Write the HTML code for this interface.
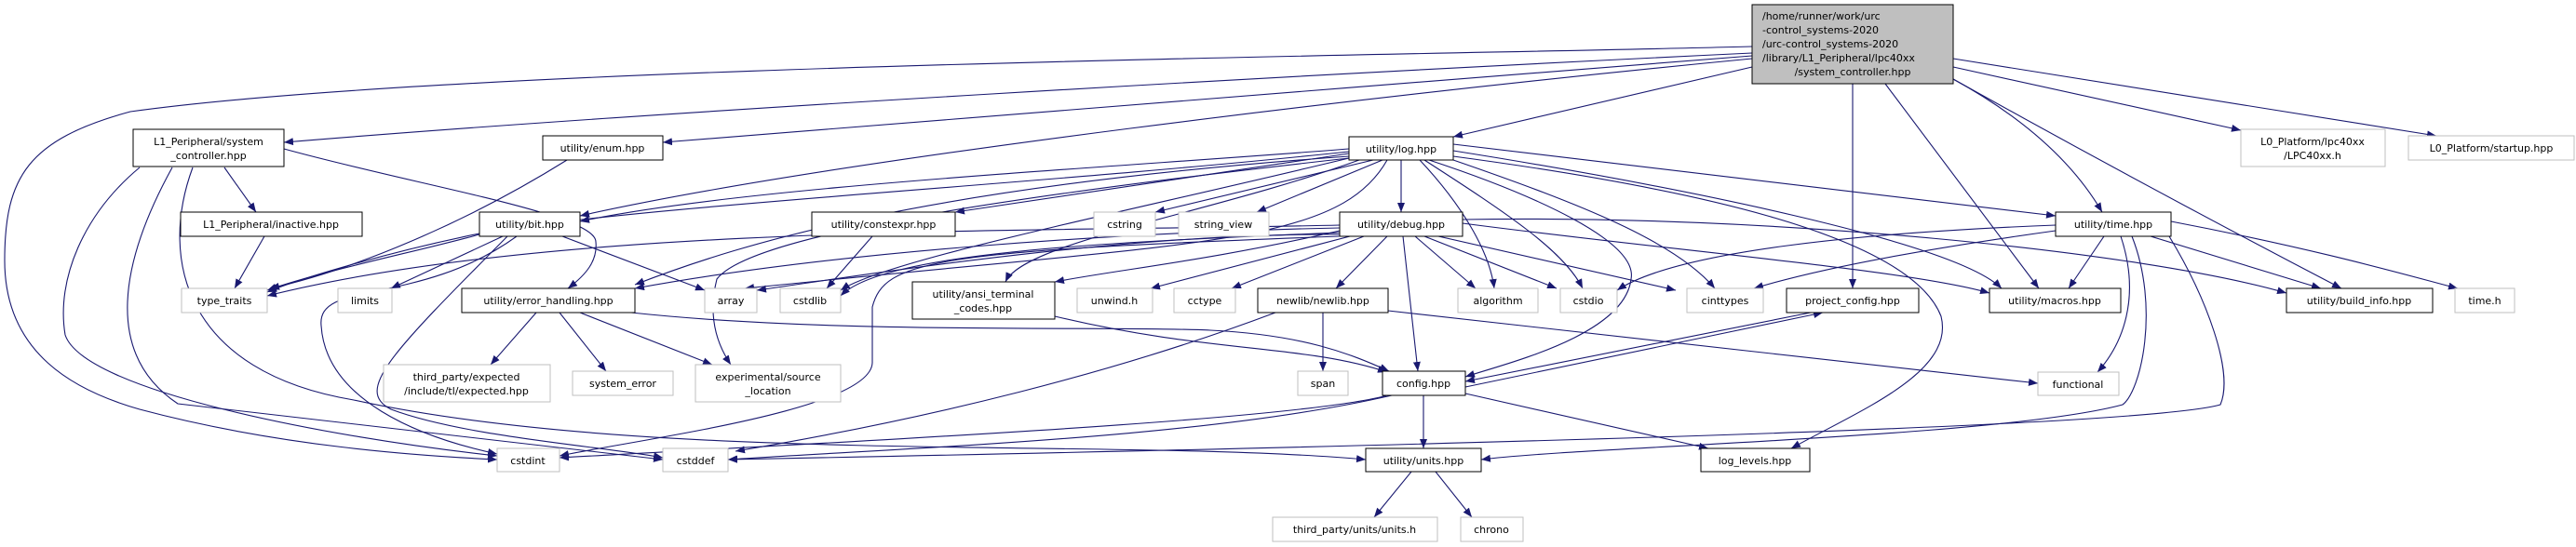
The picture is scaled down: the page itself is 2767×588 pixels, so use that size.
<!DOCTYPE html>
<html><head><meta charset="utf-8"><style>
html,body{margin:0;padding:0;background:#fff;}
svg{display:block;}
text{font-family:"DejaVu Sans","Liberation Sans",sans-serif;font-size:11px;fill:#000;}
.e{fill:none;stroke:#191970;stroke-width:1.1;marker-end:url(#a);}
.n{fill:#fff;stroke:#000;stroke-width:1;}
.g{fill:#fff;stroke:#bfbfbf;stroke-width:1;}
</style></head><body>
<svg width="2767" height="588" viewBox="0 0 2767 588" xmlns="http://www.w3.org/2000/svg">
<defs><marker id="a" viewBox="0 0 10 8" refX="10" refY="4" markerWidth="10" markerHeight="8" markerUnits="userSpaceOnUse" orient="auto"><path d="M0,0 L10,4 L0,8 z" fill="#191970"/></marker></defs>

<!-- edges from main -->
<path class="e" d="M1882,50 C1500,60 500,70 140,120 C30,150 5,190 5,280 C5,380 80,420 150,440 C300,480 450,490 534,494"/>
<path class="e" d="M1882,57 C1400,80 700,120 305,153"/>
<path class="e" d="M1882,60 C1500,90 1000,130 712,153"/>
<path class="e" d="M1882,63 C1500,100 900,170 623,232"/>
<path class="e" d="M1882,72 L1561,147"/>
<path class="e" d="M1990,90 L1990,310"/>
<path class="e" d="M2025,90 L2190,310"/>
<path class="e" d="M2098,85 C2180,130 2230,180 2258,228"/>
<path class="e" d="M2098,85 C2250,170 2400,250 2515,310"/>
<path class="e" d="M2098,72 L2407,140"/>
<path class="e" d="M2098,63 L2617,146"/>

<!-- system controller -->
<path class="e" d="M241,180 L275,228"/>
<path class="e" d="M150,180 C90,230 60,300 70,360 C90,420 350,470 534,490"/>
<path class="e" d="M185,180 C130,280 110,380 191,434 L712,494"/>
<path class="e" d="M207,180 C170,280 200,400 380,430 C700,500 1200,470 1467,494"/>
<path class="e" d="M305,160 C450,200 640,230 640,260 C642,280 630,295 610,310"/>

<path class="e" d="M284,254 L252,310"/>
<path class="e" d="M609,172 C500,240 380,290 290,310"/>
<path class="e" d="M515,252 C450,270 350,290 287,312"/>
<path class="e" d="M540,254 L420,310"/>
<path class="e" d="M604,254 L757,312"/>
<path class="e" d="M555,254 C450,330 340,300 345,350 C350,430 450,470 534,488"/>
<path class="e" d="M545,254 C420,380 380,420 420,440 C500,470 650,480 712,492"/>
<path class="e" d="M937,254 L888,310"/>

<!-- log -->
<path class="e" d="M1505,172 L1505,228"/>
<path class="e" d="M1475,172 L1241,228"/>
<path class="e" d="M1485,172 L1350,228"/>
<path class="e" d="M1449,165 L1026,228"/>
<path class="e" d="M1449,160 C1200,180 800,200 623,238"/>
<path class="e" d="M1449,163 C1100,200 700,220 520,250 C420,270 320,300 287,314"/>
<path class="e" d="M1449,168 C1000,200 800,260 682,306"/>
<path class="e" d="M1449,170 C1000,220 800,260 770,300 C760,340 770,370 785,392"/>
<path class="e" d="M1460,172 C1300,230 1100,260 1080,303"/>
<path class="e" d="M1490,172 C1440,260 1300,260 900,300 L800,310"/>
<path class="e" d="M1525,172 C1570,220 1600,270 1605,310"/>
<path class="e" d="M1530,172 C1620,230 1680,270 1700,310"/>
<path class="e" d="M1561,172 C1700,220 1800,260 1842,310"/>
<path class="e" d="M1561,162 C1800,200 2100,260 2150,310"/>
<path class="e" d="M1561,155 L2208,232"/>
<path class="e" d="M1535,172 C1650,210 1760,260 1752,300 C1745,360 1620,390 1574,405"/>
<path class="e" d="M1561,168 C1800,200 2050,250 2085,340 C2100,400 2000,440 1924,482"/>
<path class="e" d="M1449,170 C1200,230 950,280 903,312"/>

<!-- debug -->
<path class="e" d="M1507,254 L1523,399"/>
<path class="e" d="M1490,254 L1435,310"/>
<path class="e" d="M1465,254 L1323,310"/>
<path class="e" d="M1450,254 L1236,310"/>
<path class="e" d="M1520,254 L1585,310"/>
<path class="e" d="M1530,254 L1672,310"/>
<path class="e" d="M1545,254 L1800,312"/>
<path class="e" d="M1571,240 C1800,270 2050,290 2137,315"/>
<path class="e" d="M1571,236 C1900,230 2300,270 2456,315"/>
<path class="e" d="M1439,248 C1300,280 1200,290 1133,303"/>
<path class="e" d="M1439,250 C1200,260 950,270 903,318"/>
<path class="e" d="M1439,252 C1200,250 900,300 813,312"/>
<path class="e" d="M1439,245 C1200,250 900,270 682,310"/>
<path class="e" d="M1439,242 C1100,250 600,240 287,318"/>
<path class="e" d="M1439,254 C1000,270 950,280 937,330 L937,390 C935,440 700,470 601,490"/>

<!-- time -->
<path class="e" d="M2208,242 C2000,250 1800,270 1737,312"/>
<path class="e" d="M2208,248 C2050,270 1950,290 1884,310"/>
<path class="e" d="M2260,254 L2222,310"/>
<path class="e" d="M2310,254 L2493,310"/>
<path class="e" d="M2332,238 C2500,270 2600,300 2640,310"/>
<path class="e" d="M2278,254 C2300,320 2280,370 2253,400"/>
<path class="e" d="M2290,254 C2320,330 2300,420 2280,435 C2150,470 1700,480 1591,494"/>
<path class="e" d="M2330,254 C2370,320 2400,400 2385,435 C2300,460 1500,480 782,494"/>

<!-- error handling -->
<path class="e" d="M576,336 L527,392"/>
<path class="e" d="M601,336 L651,399"/>
<path class="e" d="M623,336 L765,392"/>
<path class="e" d="M678,336 C900,360 1200,350 1300,355 C1400,360 1450,380 1492,399"/>

<path class="e" d="M1133,340 C1300,380 1400,370 1490,400"/>
<path class="e" d="M1421,336 L1421,399"/>
<path class="e" d="M1370,336 C1200,400 1000,450 790,485"/>
<path class="e" d="M1491,334 L2189,412"/>
<path class="e" d="M1945,336 L1574,410"/>
<path class="e" d="M1574,416 L1958,336"/>
<path class="e" d="M1490,425 C1400,450 1000,470 601,492"/>
<path class="e" d="M1495,425 C1300,470 1000,480 782,494"/>
<path class="e" d="M1529,425 L1529,482"/>
<path class="e" d="M1574,423 L1835,482"/>
<path class="e" d="M1516,507 L1476,556"/>
<path class="e" d="M1542,507 L1581,556"/>

<!-- nodes -->
<rect x="1882" y="5" width="216" height="85" fill="#bfbfbf" stroke="#000"/>
<text x="1893" y="21">/home/runner/work/urc</text>
<text x="1893" y="36">-control_systems-2020</text>
<text x="1893" y="51">/urc-control_systems-2020</text>
<text x="1893" y="66">/library/L1_Peripheral/lpc40xx</text>
<text x="1990" y="81" text-anchor="middle">/system_controller.hpp</text>

<g text-anchor="middle">
<rect class="n" x="143" y="139" width="162" height="40"/><text x="224" y="156">L1_Peripheral/system</text><text x="224" y="171">_controller.hpp</text>
<rect class="n" x="583" y="146" width="129" height="26"/><text x="647" y="163">utility/enum.hpp</text>
<rect class="n" x="1449" y="147" width="112" height="25"/><text x="1505" y="164">utility/log.hpp</text>
<rect class="g" x="2407" y="139" width="155" height="40"/><text x="2484" y="156">L0_Platform/lpc40xx</text><text x="2484" y="171">/LPC40xx.h</text>
<rect class="g" x="2587" y="146" width="178" height="26"/><text x="2676" y="163">L0_Platform/startup.hpp</text>

<rect class="n" x="194" y="228" width="195" height="26"/><text x="291" y="245">L1_Peripheral/inactive.hpp</text>
<rect class="n" x="515" y="228" width="108" height="26"/><text x="569" y="245">utility/bit.hpp</text>
<rect class="n" x="872" y="228" width="154" height="26"/><text x="949" y="245">utility/constexpr.hpp</text>
<rect class="g" x="1175" y="228" width="66" height="26"/><text x="1208" y="245">cstring</text>
<rect class="g" x="1266" y="228" width="97" height="26"/><text x="1314" y="245">string_view</text>
<rect class="n" x="1439" y="228" width="132" height="26"/><text x="1505" y="245">utility/debug.hpp</text>
<rect class="n" x="2208" y="228" width="124" height="26"/><text x="2270" y="245">utility/time.hpp</text>

<rect class="g" x="195" y="310" width="92" height="26"/><text x="241" y="327">type_traits</text>
<rect class="g" x="363" y="310" width="58" height="26"/><text x="392" y="327">limits</text>
<rect class="n" x="496" y="310" width="186" height="26"/><text x="589" y="327">utility/error_handling.hpp</text>
<rect class="g" x="757" y="310" width="56" height="26"/><text x="785" y="327">array</text>
<rect class="g" x="838" y="310" width="65" height="26"/><text x="870" y="327">cstdlib</text>
<rect class="n" x="980" y="303" width="153" height="40"/><text x="1056" y="320">utility/ansi_terminal</text><text x="1056" y="335">_codes.hpp</text>
<rect class="g" x="1157" y="310" width="81" height="26"/><text x="1197" y="327">unwind.h</text>
<rect class="g" x="1261" y="310" width="66" height="26"/><text x="1294" y="327">cctype</text>
<rect class="n" x="1351" y="310" width="140" height="26"/><text x="1421" y="327">newlib/newlib.hpp</text>
<rect class="g" x="1566" y="310" width="86" height="26"/><text x="1609" y="327">algorithm</text>
<rect class="g" x="1676" y="310" width="61" height="26"/><text x="1706" y="327">cstdio</text>
<rect class="g" x="1812" y="310" width="82" height="26"/><text x="1853" y="327">cinttypes</text>
<rect class="n" x="1919" y="310" width="142" height="26"/><text x="1990" y="327">project_config.hpp</text>
<rect class="n" x="2137" y="310" width="141" height="26"/><text x="2207" y="327">utility/macros.hpp</text>
<rect class="n" x="2456" y="310" width="157" height="26"/><text x="2534" y="327">utility/build_info.hpp</text>
<rect class="g" x="2637" y="310" width="64" height="26"/><text x="2669" y="327">time.h</text>

<rect class="g" x="412" y="392" width="179" height="40"/><text x="501" y="409">third_party/expected</text><text x="501" y="424">/include/tl/expected.hpp</text>
<rect class="g" x="615" y="399" width="108" height="26"/><text x="669" y="416">system_error</text>
<rect class="g" x="747" y="392" width="156" height="40"/><text x="825" y="409">experimental/source</text><text x="825" y="424">_location</text>
<rect class="g" x="1394" y="399" width="54" height="26"/><text x="1421" y="416">span</text>
<rect class="n" x="1485" y="399" width="89" height="26"/><text x="1529" y="416">config.hpp</text>
<rect class="g" x="2189" y="400" width="87" height="25"/><text x="2232" y="417">functional</text>

<rect class="g" x="534" y="482" width="67" height="25"/><text x="567" y="499">cstdint</text>
<rect class="g" x="712" y="482" width="70" height="25"/><text x="747" y="499">cstddef</text>
<rect class="n" x="1467" y="482" width="124" height="25"/><text x="1529" y="499">utility/units.hpp</text>
<rect class="n" x="1827" y="482" width="117" height="25"/><text x="1885" y="499">log_levels.hpp</text>

<rect class="g" x="1367" y="556" width="177" height="26"/><text x="1455" y="573">third_party/units/units.h</text>
<rect class="g" x="1569" y="556" width="67" height="26"/><text x="1602" y="573">chrono</text>
</g>
</svg>
</body></html>
